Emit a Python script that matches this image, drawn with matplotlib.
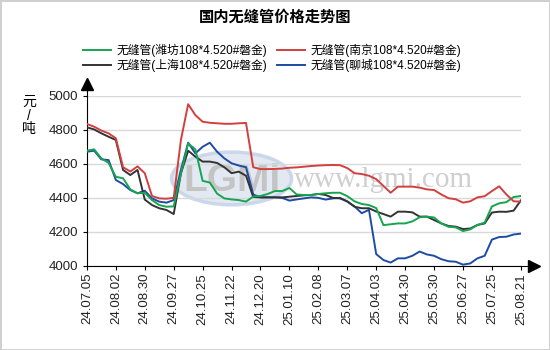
import matplotlib
matplotlib.use('Agg')
import matplotlib.pyplot as plt
from matplotlib.patches import Ellipse
import numpy as np

plt.rcParams['font.family'] = ['Liberation Sans', 'Noto Sans CJK SC', 'DejaVu Sans']

tick_labels = ['24.07.05', '24.08.02', '24.08.30', '24.09.27', '24.10.25', '24.11.22',
               '24.12.20', '25.01.10', '25.02.08', '25.03.07', '25.04.03', '25.04.30',
               '25.05.30', '25.06.27', '25.07.25', '25.08.21']

# weekly prices, yuan/ton
weifang = [4677, 4685, 4632, 4605, 4524, 4515, 4450, 4427, 4430, 4387,
           4358, 4348, 4350, 4544, 4720, 4685, 4500, 4490, 4425, 4397,
           4391, 4387, 4378, 4408, 4411, 4423, 4440, 4440, 4458, 4420,
           4417, 4417, 4423, 4427, 4430, 4430, 4410, 4380, 4364, 4358,
           4340, 4240, 4245, 4250, 4250, 4262, 4286, 4290, 4285, 4250,
           4230, 4227, 4205, 4215, 4241, 4255, 4350, 4368, 4375, 4405, 4411]
nanjing = [4834, 4818, 4795, 4779, 4750, 4580, 4555, 4585, 4545, 4411,
           4397, 4395, 4400, 4740, 4950, 4886, 4847, 4841, 4838, 4835,
           4835, 4838, 4840, 4580, 4569, 4569, 4570, 4572, 4577, 4579,
           4583, 4587, 4590, 4592, 4593, 4592, 4575, 4545, 4540, 4530,
           4510, 4470, 4430, 4466, 4466, 4466, 4460, 4450, 4446, 4420,
           4398, 4392, 4372, 4380, 4403, 4410, 4440, 4468, 4420, 4380, 4378]
shanghai = [4814, 4802, 4779, 4759, 4740, 4564, 4534, 4564, 4390, 4358,
            4339, 4329, 4305, 4544, 4677, 4642, 4613, 4613, 4605, 4580,
            4545, 4554, 4530, 4405, 4403, 4403, 4403, 4403, 4407, 4411,
            4415, 4417, 4423, 4417, 4400, 4397, 4380, 4348, 4339, 4339,
            4320, 4305, 4290, 4319, 4319, 4315, 4290, 4290, 4270, 4250,
            4235, 4231, 4217, 4220, 4241, 4250, 4314, 4319, 4318, 4325, 4385]
liaocheng = [4671, 4677, 4626, 4622, 4505, 4481, 4446, 4427, 4442, 4397,
             4378, 4372, 4387, 4564, 4724, 4661, 4700, 4724, 4671, 4632,
             4603, 4590, 4580, 4420, 4403, 4403, 4403, 4400, 4384, 4391,
             4397, 4403, 4400, 4390, 4397, 4400, 4378, 4350, 4310, 4330,
             4070, 4035, 4020, 4045, 4045, 4060, 4085, 4068, 4060, 4040,
             4028, 4025, 4008, 4015, 4045, 4060, 4155, 4170, 4172, 4185, 4190]

series = [
    ('无缝管(潍坊108*4.520#磐金)', weifang, '#17a550'),
    ('无缝管(上海108*4.520#磐金)', shanghai, '#333333'),
    ('无缝管(南京108*4.520#磐金)', nanjing, '#d23f3f'),
    ('无缝管(聊城108*4.520#磐金)', liaocheng, '#1f4ba5'),
]

x = np.arange(len(weifang))

fig = plt.figure(figsize=(5.5, 3.5), dpi=100)
fig.patch.set_edgecolor('#d0d0d0')
fig.patch.set_linewidth(2)
ax = fig.add_axes([0.158, 0.24, 0.789, 0.4866])

# watermark
ax.add_patch(Ellipse((20, 4514), 16.6, 310, facecolor='#dde6f2', edgecolor='#c5d3e8',
                     lw=2.5, alpha=0.85, zorder=0))
ax.text(20, 4500, 'LGMi', fontsize=28, fontweight='bold', color='#c4c4c4',
        ha='center', va='center', zorder=0.5, family='Liberation Sans')
ax.text(41, 4505, 'www.lgmi.com', fontsize=21, color='#cfcfcf',
        ha='center', va='center', zorder=0.5, family='Liberation Serif')

# plot order so green/red draw over the others
handles = {}
for name, vals, col in [series[3], series[1], series[0], series[2]]:
    ln, = ax.plot(x, vals, color=col, lw=1.4, zorder=3)
    handles[name] = ln

ax.set_xlim(0, 60)
ax.set_ylim(4000, 5000)
ax.set_yticks(np.arange(4000, 5001, 200))
ax.set_xticks(np.arange(0, 61, 4))
ax.set_xticklabels(tick_labels, rotation=90, fontsize=9.5, color='#222222')
ax.tick_params(axis='y', labelsize=9.5, length=3, labelcolor='#222222')
ax.tick_params(axis='x', length=3, pad=2)
ax.grid(axis='y', color='#d9d9d9', lw=1)
ax.set_axisbelow(True)
for s in ['top', 'right']:
    ax.spines[s].set_visible(False)
ax.spines['left'].set_bounds(4000, 5000)

# axis arrows
ax.plot([0, 0], [1, 1.06], transform=ax.transAxes, color='black', lw=0.8, clip_on=False)
ax.plot([0], [1.07], marker='^', ms=8, color='black', transform=ax.transAxes, clip_on=False)
ax.plot([1, 1.02], [0, 0], transform=ax.transAxes, color='black', lw=0.8, clip_on=False)
ax.plot([1.03], [0], marker='>', ms=8, color='black', transform=ax.transAxes, clip_on=False)

fig.text(0.053, 0.67, '元\n/\n吨', fontsize=10, ha='center', va='center', linespacing=1.0)

fig.text(0.5, 0.95, '国内无缝管价格走势图', fontsize=11, fontweight='bold',
         ha='center', va='center')

names = [series[0][0], series[1][0], series[2][0], series[3][0]]
fig.legend([handles[n] for n in names], names, ncol=2, loc='center',
           bbox_to_anchor=(0.495, 0.835), frameon=False, fontsize=8.5,
           handlelength=2.4, handletextpad=0.45, columnspacing=0.8,
           labelspacing=0.15, borderaxespad=0)

fig.savefig('out.png', dpi=100)
